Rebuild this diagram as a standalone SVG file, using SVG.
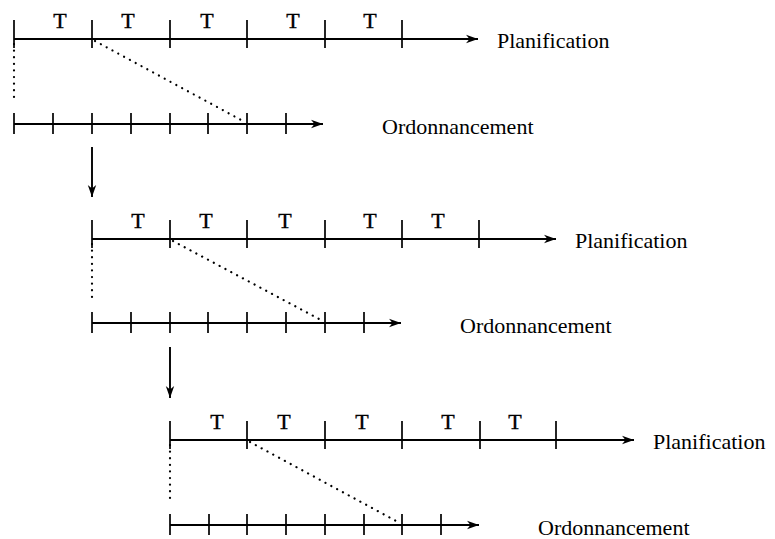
<svg xmlns="http://www.w3.org/2000/svg" width="775" height="539" viewBox="0 0 775 539">
<style>
.ln{stroke:#000;stroke-width:1.9;fill:none}
.tk{stroke:#000;stroke-width:1.7}
.dot{stroke:#000;stroke-width:2.2;stroke-dasharray:0.1 6.5;stroke-linecap:round;fill:none}
.t{font-family:"Liberation Serif","Times New Roman",serif;font-size:22px;fill:#000}
.tt{font-family:"Liberation Serif","Times New Roman",serif;font-size:22px;fill:#000;text-anchor:middle;stroke:#000;stroke-width:0.4}
</style>
<defs>
<marker id="ah" markerUnits="userSpaceOnUse" markerWidth="14" markerHeight="10" refX="12" refY="5" orient="auto">
<path d="M0,0.8 L12,5 L0,9.2 L3.5,5 z" fill="#000"/>
</marker>
</defs>
<rect width="775" height="539" fill="#fff"/>

<g id="plan1">
<line class="ln" x1="14" y1="39" x2="478" y2="39" marker-end="url(#ah)"/>
<path class="tk" d="M14,20V48M92,20V48M170,20V48M247,20V48M325,20V48M402,20V48"/>
<text class="tt" x="60" y="28">T</text><text class="tt" x="128" y="28">T</text><text class="tt" x="207" y="28">T</text><text class="tt" x="293" y="28">T</text><text class="tt" x="370" y="28">T</text>
<text class="t" x="497" y="48">Planification</text>
</g>
<g id="ord1">
<line class="ln" x1="14" y1="124" x2="323" y2="124" marker-end="url(#ah)"/>
<path class="tk" d="M14,113V134M53,113V134M92,113V134M131,113V134M170,113V134M208,113V134M247,113V134M286,113V134"/>
<text class="t" x="382" y="134">Ordonnancement</text>
</g>

<g id="plan2">
<line class="ln" x1="92" y1="239" x2="556" y2="239" marker-end="url(#ah)"/>
<path class="tk" d="M92,220V248M170,220V248M247,220V248M325,220V248M402,220V248M479,220V248"/>
<text class="tt" x="138" y="228">T</text><text class="tt" x="206" y="228">T</text><text class="tt" x="285" y="228">T</text><text class="tt" x="370" y="228">T</text><text class="tt" x="438" y="228">T</text>
<text class="t" x="575" y="248">Planification</text>
</g>
<g id="ord2">
<line class="ln" x1="92" y1="323" x2="401" y2="323" marker-end="url(#ah)"/>
<path class="tk" d="M92,312V333M131,312V333M170,312V333M208,312V333M247,312V333M286,312V333M325,312V333M364,312V333"/>
<text class="t" x="460" y="333">Ordonnancement</text>
</g>

<g id="plan3">
<line class="ln" x1="170" y1="440" x2="634" y2="440" marker-end="url(#ah)"/>
<path class="tk" d="M170,421V449M247,421V449M325,421V449M402,421V449M480,421V449M556,421V449"/>
<text class="tt" x="217" y="429">T</text><text class="tt" x="284" y="429">T</text><text class="tt" x="362" y="429">T</text><text class="tt" x="448" y="429">T</text><text class="tt" x="515" y="429">T</text>
<text class="t" x="653" y="449">Planification</text>
</g>
<g id="ord3">
<line class="ln" x1="170" y1="525" x2="479" y2="525" marker-end="url(#ah)"/>
<path class="tk" d="M170,514V535M209,514V535M247,514V535M286,514V535M325,514V535M364,514V535M402,514V535M441,514V535"/>
<text class="t" x="538" y="535">Ordonnancement</text>
</g>

<g id="connectors">
<line class="dot" x1="14" y1="44" x2="14" y2="97"/>
<line class="dot" x1="95" y1="41" x2="243" y2="121"/>
<line class="ln" x1="92" y1="147" x2="92" y2="197" marker-end="url(#ah)"/>
<line class="dot" x1="92" y1="244" x2="92" y2="297"/>
<line class="dot" x1="173" y1="241" x2="321" y2="320"/>
<line class="ln" x1="170" y1="347" x2="170" y2="398" marker-end="url(#ah)"/>
<line class="dot" x1="170" y1="445" x2="170" y2="498"/>
<line class="dot" x1="250" y1="442" x2="398" y2="522"/>
</g>
</svg>
